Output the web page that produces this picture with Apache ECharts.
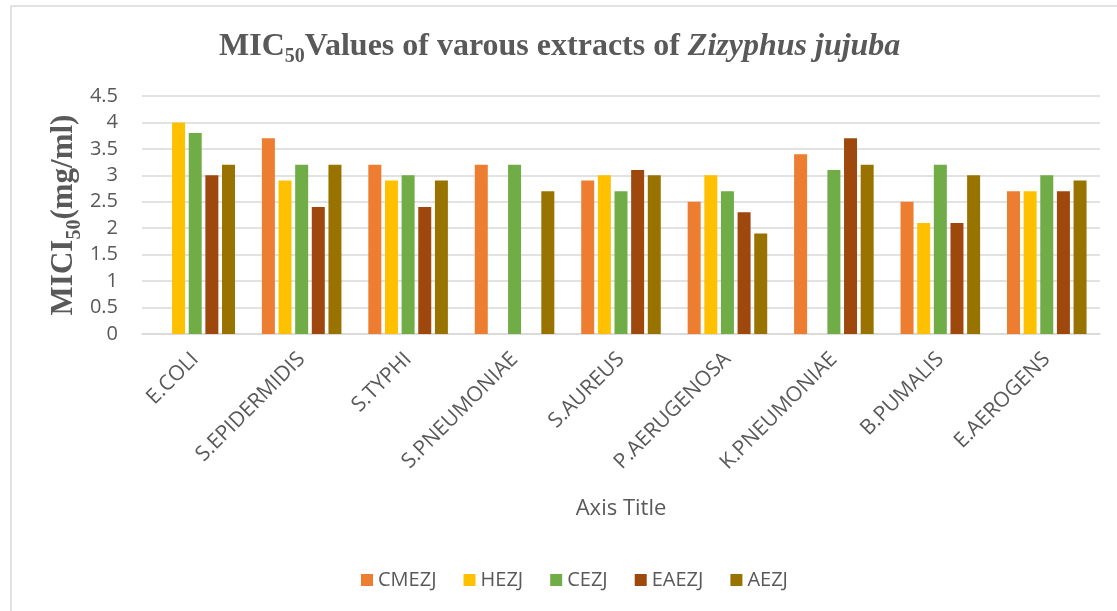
<!DOCTYPE html>
<html>
<head>
<meta charset="utf-8">
<script src="https://cdn.jsdelivr.net/npm/echarts@6/dist/echarts.min.js"></script>
<style>
  html, body { margin: 0; padding: 0; background: #fff; }
  #main { width: 1117px; height: 611px; }
</style>
</head>
<body>
<div id="main"></div>
<script>
// bacteria on the x axis
var categories = ['E.COLI', 'S.EPIDERMIDIS', 'S.TYPHI', 'S.PNEUMONIAE', 'S.AUREUS',
    'P.AERUGENOSA', 'K.PNEUMONIAE', 'B.PUMALIS', 'E.AEROGENS'];

// MIC50 values per extract (null = no bar)
var cmezj = [null, 3.7, 3.2, 3.2, 2.9, 2.5, 3.4, 2.5, 2.7];
var hezj = [4.0, 2.9, 2.9, null, 3.0, 3.0, null, 2.1, 2.7];
var cezj = [3.8, 3.2, 3.0, 3.2, 2.7, 2.7, 3.1, 3.2, 3.0];
var eaezj = [3.0, 2.4, 2.4, null, 3.1, 2.3, 3.7, 2.1, 2.7];
var aezj = [3.2, 3.2, 2.9, 2.7, 3.0, 1.9, 3.2, 3.0, 2.9];

var seriesNames = ['CMEZJ', 'HEZJ', 'CEZJ', 'EAEZJ', 'AEZJ'];
var seriesData = [cmezj, hezj, cezj, eaezj, aezj];
var colors = ['#ED7D31', '#FFC000', '#70AD47', '#9E480E', '#997300'];

var chartDom = document.getElementById('main');
var myChart = echarts.init(chartDom);
var option;

var grey = '#595959';
var sans = '"Open Sans", Lato, sans-serif';
var serif = '"Liberation Serif", "DejaVu Serif", serif';

option = {
    animation: false,
    color: colors,
    title: {
        text: '{a|MIC}{s|50}{a|Values of varous extracts of }{i|Zizyphus jujuba}',
        left: 214,
        top: 24,
        textStyle: {
            rich: {
                a: { fontFamily: serif, fontWeight: 'bold', fontSize: 32, color: grey, lineHeight: 36 },
                s: { fontFamily: serif, fontWeight: 'bold', fontSize: 20, color: grey, verticalAlign: 'bottom', lineHeight: 26, padding: [0, 0, -2, 0] },
                i: { fontFamily: serif, fontWeight: 'bold', fontStyle: 'italic', fontSize: 32, color: grey, lineHeight: 36 }
            }
        }
    },
    graphic: [
        {
            type: 'rect',
            shape: { x: 11, y: 6, width: 1200, height: 700 },
            style: { fill: 'none', stroke: '#D9D9D9', lineWidth: 1.5 },
            silent: true
        }
    ],
    legend: {
        left: 356,
        top: 565,
        itemWidth: 12,
        itemHeight: 12,
        itemGap: 27,
        icon: 'rect',
        textStyle: { fontFamily: sans, fontSize: 20, color: grey },
        data: seriesNames
    },
    grid: {
        left: 142,
        right: 17,
        top: 96,
        bottom: 277,
        containLabel: false
    },
    xAxis: {
        type: 'category',
        data: categories,
        name: 'Axis Title',
        nameLocation: 'middle',
        nameGap: 164,
        nameMoveOverlap: false,
        nameTextStyle: { fontFamily: sans, fontSize: 22, color: grey },
        axisLine: { lineStyle: { color: '#D9D9D9', width: 1.5 } },
        axisTick: { show: false },
        axisLabel: {
            rotate: 45,
            margin: 22,
            fontFamily: sans,
            fontSize: 21,
            color: grey
        }
    },
    yAxis: {
        type: 'value',
        min: 0,
        max: 4.5,
        interval: 0.5,
        name: '{a|MICI}{s|50}{a|(mg/ml)}',
        nameLocation: 'middle',
        nameGap: 60,
        nameMoveOverlap: false,
        nameTextStyle: {
            rich: {
                a: { fontFamily: serif, fontWeight: 'bold', fontSize: 31, color: grey, lineHeight: 36 },
                s: { fontFamily: serif, fontWeight: 'bold', fontSize: 20, color: grey, verticalAlign: 'bottom', lineHeight: 26, padding: [0, 0, -3, 0] }
            }
        },
        axisLine: { show: false },
        axisTick: { show: false },
        axisLabel: {
            margin: 24,
            fontFamily: sans,
            fontSize: 20,
            color: grey
        },
        splitLine: { lineStyle: { color: '#D9D9D9', width: 1.5 } }
    },
    series: seriesNames.map(function (name, i) {
        return {
            name: name,
            type: 'bar',
            barWidth: 13,
            barGap: '28%',
            data: seriesData[i]
        };
    })
};

option && myChart.setOption(option);
</script>
</body>
</html>
